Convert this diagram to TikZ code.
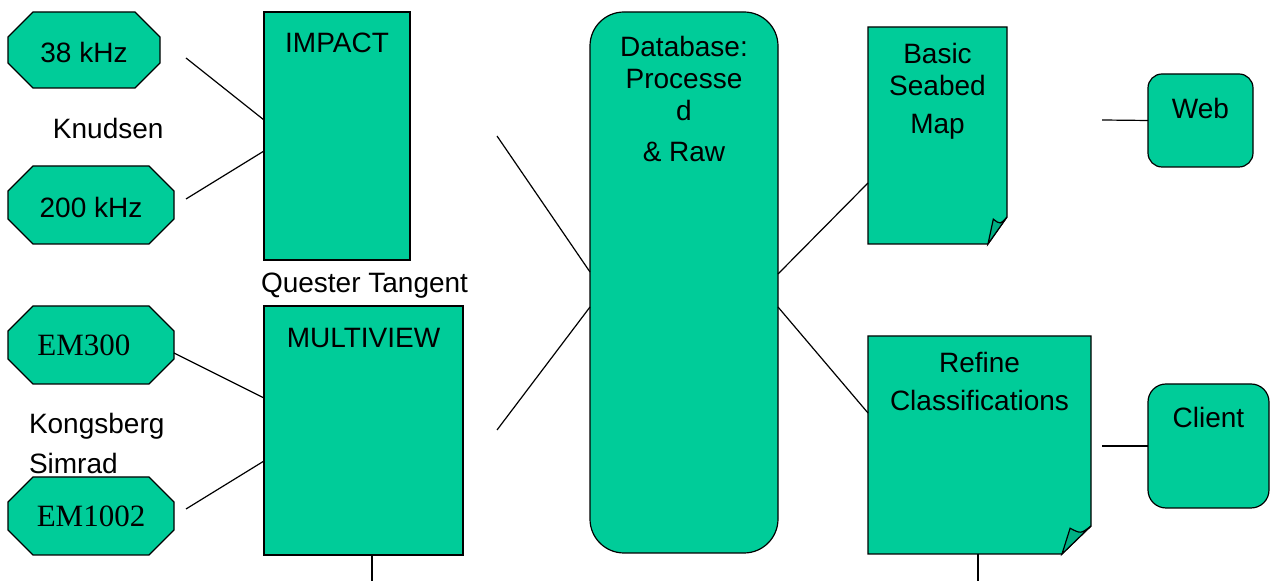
\documentclass[tikz,border=0pt]{standalone}
\usepackage{fontspec}
\setmainfont{Liberation Sans}
\newfontfamily\emfont{Liberation Serif}
\usetikzlibrary{positioning}
\definecolor{seagreen}{RGB}{0,204,153}
\definecolor{foldgreen}{RGB}{0,176,132}
\newcommand\cutsize{12.5pt}
% octagon drawn round an empty node
\newcommand\padshape[1]{%
  \draw[outline] ([xshift=\cutsize]#1.north west) -- ([xshift=-\cutsize]#1.north east)
    -- ([yshift=-\cutsize]#1.north east) -- ([yshift=\cutsize]#1.south east)
    -- ([xshift=-\cutsize]#1.south east) -- ([xshift=\cutsize]#1.south west)
    -- ([yshift=\cutsize]#1.south west) -- ([yshift=-\cutsize]#1.north west) -- cycle;}
% page with a turned corner, drawn round an empty node
\newcommand\foldpage[3]{%
  \draw[outline] (#1.north west) -- (#1.north east) -- ([yshift=#3]#1.south east)
    -- ([xshift=-#2]#1.south east) -- (#1.south west) -- cycle;
  \draw[outline,fill=foldgreen] ([xshift=-#2]#1.south east)
    -- ([xshift=-0.72*#2,yshift=0.92*#3]#1.south east)
    .. controls ([xshift=-0.35*#2,yshift=0.72*#3]#1.south east) .. ([yshift=#3]#1.south east) -- cycle;}

\begin{document}
\begin{tikzpicture}[x=0.5pt,y=-0.5pt,line width=0.6pt,
    every node/.style={font=\fontsize{14pt}{16pt}\selectfont,inner sep=0pt,outer sep=0pt},
    outline/.style={draw,fill=seagreen},
    box/.style={outline,anchor=north west},
    page/.style={anchor=north west},
    serif/.style={font=\emfont\fontsize{15.5pt}{18pt}\selectfont}]
  \useasboundingbox (0,0) rectangle (1271,581);

  % sounders
  \node (k38) at (84,50) [minimum width=76pt,minimum height=38pt] {};
  \padshape{k38}
  \node (k38lbl) at ([yshift=-1.5pt]k38.center) {38 kHz};
  \node (k200) at (91,205) [minimum width=83pt,minimum height=39pt] {};
  \padshape{k200}
  \node (k200lbl) at ([yshift=-1.5pt]k200.center) {200 kHz};
  \node (em300) at (91,345) [minimum width=83pt,minimum height=39pt] {};
  \padshape{em300}
  \node (em300lbl) at ([xshift=-3.5pt]em300.center) [serif] {EM300};
  \node (em1002) at (91,516) [minimum width=83pt,minimum height=39pt] {};
  \padshape{em1002}
  \node (em1002lbl) at (em1002.center) [serif] {EM1002};
  \node (knudsen) at (53,118) [anchor=north west] {Knudsen};
  \node (kongsberg) at (29,413) [anchor=north west,align=left] {Kongsberg\\[4pt]Simrad};

  % software
  \node (impact) at (264,12) [box,minimum width=73pt,minimum height=124pt] {};
  \node (impactlbl) [below=10.5pt of impact.north] {IMPACT};
  \node (quester) at (261,273) [anchor=north west] {Quester Tangent};
  \node (multiview) at (264,306) [box,minimum width=99.5pt,minimum height=124.5pt] {};
  \node (multiviewlbl) [below=11pt of multiview.north] {MULTIVIEW};

  % database
  \node (db) at (590,12) [box,rounded corners=17pt,minimum width=94pt,minimum height=270.5pt] {};
  \node (dblbl) [below=12pt of db.north,align=center] {Database:\\Processe\\d\\[4.5pt]\& Raw};

  % products
  \node (basic) at (868,27) [page,minimum width=69.5pt,minimum height=108.5pt] {};
  \foldpage{basic}{9.5pt}{13.5pt}
  \node (basiclbl) [below=8pt of basic.north,align=center] {Basic\\Seabed\\[3pt]Map};
  \node (refine) at (868,336) [page,minimum width=111.5pt,minimum height=109pt] {};
  \foldpage{refine}{14.5pt}{14pt}
  \node (refinelbl) [below=8pt of refine.north,align=center] {Refine\\[3pt]Classifications};
  \node (web) at (1148,74) [box,rounded corners=7pt,minimum width=52.5pt,minimum height=46.5pt] {};
  \node (weblbl) [below=12pt of web.north] {Web};
  \node (client) at (1148,384) [box,rounded corners=9pt,minimum width=60.5pt,minimum height=62pt] {};
  \node (clientlbl) [below=11.5pt of client.north] {Client};

  % loose ends
  \coordinate (k38r) at (186,58);
  \coordinate (k200r) at (186,199);
  \coordinate (em1002r) at (186,509);
  \coordinate (mvout) at (372,581);
  \coordinate (qtin) at (497,136);
  \coordinate (mvin) at (497,430);
  \coordinate (webin) at (1102,120);
  \coordinate (clientin) at (1102,446);
  \coordinate (refout) at (978,581);

  \draw (k38r) -- ([yshift=-54pt]impact.north west);
  \draw (k200r) -- ([yshift=-69.5pt]impact.north west);
  \draw ([yshift=-4pt]em300.east) -- ([yshift=-46pt]multiview.north west);
  \draw (em1002r) -- ([yshift=-77.5pt]multiview.north west);
  \draw ([xshift=54pt]multiview.south west) -- (mvout);
  \draw (qtin) -- ([yshift=-130pt]db.north west);
  \draw (mvin) -- ([yshift=-147.5pt]db.north west);
  \draw ([yshift=-131pt]db.north east) -- ([yshift=-78pt]basic.north west);
  \draw ([yshift=-147.5pt]db.north east) -- ([yshift=-38.5pt]refine.north west);
  \draw (webin) -- (web.west);
  \draw (clientin) -- (client.west);
  \draw ([xshift=55pt]refine.south west) -- (refout);
\end{tikzpicture}
\end{document}
